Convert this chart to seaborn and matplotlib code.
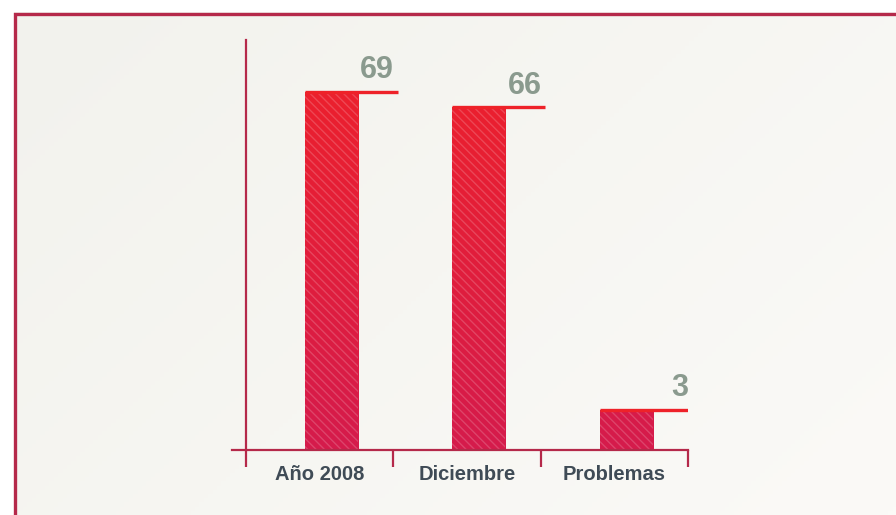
"""Bar chart: Año 2008 / Diciembre / Problemas."""

import numpy as np
import pandas as pd
import matplotlib
matplotlib.use("Agg")
import matplotlib.pyplot as plt
from matplotlib.patches import Rectangle
from matplotlib.colors import LinearSegmentedColormap
import seaborn as sns

# data
categories = ["Año 2008", "Diciembre", "Problemas"]
values = [69, 66, 3]

# style
FRAME = "#b5294a"
LINE_RED = "#ee2229"
VALUE_COLOR = "#8a9a8e"
LABEL_COLOR = "#3f4b56"
BAR_WIDTH = 0.36
BAR_OFFSET = 0.08      # bars sit a bit right of the category centre
LINE_EXTRA = 0.27      # red top line runs past the bar
MIN_VISIBLE = 7.7      # tiny bars are drawn with a minimum height
Y_TOP = 79

sns.set_theme(style="white")
plt.rcParams["font.family"] = ["Liberation Sans", "DejaVu Sans"]

df = pd.DataFrame({"categoria": categories, "valor": values})
df["altura"] = df["valor"].clip(lower=MIN_VISIBLE)

fig = plt.figure(figsize=(8.96, 5.15), dpi=100, facecolor="white")

# background panel with soft diagonal gradient and dark red frame
bg = fig.add_axes([14 / 896, 0, 1 - 14 / 896, 1 - 12 / 515], zorder=-5)
gx, gy = np.meshgrid(np.linspace(0, 1, 200), np.linspace(0, 1, 120))
grad = (gx + (1 - gy) * 0.6) / 1.6
bg_cmap = LinearSegmentedColormap.from_list("bg", ["#f2f2ed", "#fbfaf7"])
bg.imshow(grad, cmap=bg_cmap, aspect="auto", extent=[0, 1, 0, 1], origin="lower")
bg.set_axis_off()
fig.patches.append(Rectangle((15 / 896, -0.05), 1.2, 1 - 13.5 / 515 + 0.05,
                             transform=fig.transFigure, fill=False,
                             edgecolor=FRAME, linewidth=2.4, zorder=10))

ax = fig.add_axes([246 / 896, 1 - 450 / 515, 442 / 896, 410 / 515])
ax.set_facecolor("none")

sns.barplot(data=df, x="categoria", y="altura", ax=ax, width=BAR_WIDTH,
            color=LINE_RED, saturation=1, linewidth=0)

bar_cmap = LinearSegmentedColormap.from_list("bar", ["#d51b4c", "#ef2129"])
grad_v = np.linspace(0, 1, 256).reshape(-1, 1)
for patch, h, v in zip(ax.patches, df["altura"], df["valor"]):
    patch.set_x(patch.get_x() + BAR_OFFSET)
    x0 = patch.get_x()
    w = patch.get_width()
    # vertical gradient clipped to the bar
    img = ax.imshow(grad_v[: max(2, int(256 * h / Y_TOP))], cmap=bar_cmap,
                    vmin=0, vmax=1, origin="lower", aspect="auto",
                    extent=[x0, x0 + w, 0, h], zorder=1)
    img.set_clip_path(patch)
    patch.set_facecolor("none")
    patch.set_edgecolor((1, 1, 1, 0.18))
    patch.set_hatch("\\\\\\\\")
    patch.set_zorder(2)
    # red line on top of the bar and the value above it
    x1 = x0 + w + LINE_EXTRA
    ax.plot([x0, x1], [h, h], color=LINE_RED, linewidth=2.4,
            solid_capstyle="butt", zorder=3)
    ax.text(x1 - 0.025, h + 1.3, f"{v}", ha="right", va="bottom",
            fontsize=22, fontweight="bold", color=VALUE_COLOR)

ax.set_xlim(-0.5, 2.5)
ax.set_ylim(0, Y_TOP)
ax.set_xlabel("")
ax.set_ylabel("")
ax.set_yticks([])

for side in ["top", "right"]:
    ax.spines[side].set_visible(False)
for side in ["left", "bottom"]:
    ax.spines[side].set_color(FRAME)
    ax.spines[side].set_linewidth(1.6)
ax.spines["bottom"].set_bounds(-0.595, 2.5)

ax.set_xticks([0, 1, 2])
ax.set_xticklabels(categories, fontsize=14.5, fontweight="bold", color=LABEL_COLOR)
ax.tick_params(axis="x", which="major", length=0, pad=11)
ax.set_xticks([-0.5, 0.5, 1.5, 2.5], minor=True)
ax.tick_params(axis="x", which="minor", bottom=True, direction="out",
               length=12, width=1.6, color=FRAME)

fig.savefig("out.png", dpi=100, facecolor="white")
